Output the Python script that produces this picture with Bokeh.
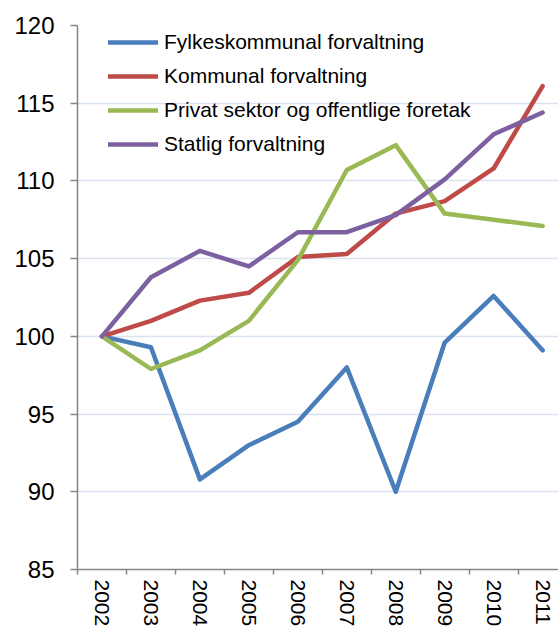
import math
from bokeh.plotting import figure
from bokeh.models import Range1d, FixedTicker, Legend, LegendItem
from bokeh.embed import file_html
from bokeh.resources import INLINE

years = [2002, 2003, 2004, 2005, 2006, 2007, 2008, 2009, 2010, 2011]
year_labels = [str(y) for y in years]

fylkeskommunal = [100.0, 99.3, 90.8, 93.0, 94.5, 98.0, 90.0, 99.6, 102.6, 99.1]
kommunal = [100.0, 101.0, 102.3, 102.8, 105.1, 105.3, 107.9, 108.7, 110.8, 116.1]
privat = [100.0, 97.9, 99.1, 101.0, 104.9, 110.7, 112.3, 107.9, 107.5, 107.1]
statlig = [100.0, 103.8, 105.5, 104.5, 106.7, 106.7, 107.8, 110.1, 113.0, 114.4]

series_names = [
    "Fylkeskommunal forvaltning",
    "Kommunal forvaltning",
    "Privat sektor og offentlige foretak",
    "Statlig forvaltning",
]
series_values = [fylkeskommunal, kommunal, privat, statlig]
colors = ["#4A7EBB", "#BE4B48", "#98B954", "#7D60A0"]

y_ticks = [85, 90, 95, 100, 105, 110, 115, 120]

FONT = "Liberation Sans"
W, H = 558, 629
LEFT, TOP = 77, 25
px_per_year = 48.96
frame_w = W - LEFT
frame_h_est = 544

p = figure(
    width=W, height=H,
    x_range=Range1d(years[0] - 0.5, years[0] - 0.5 + frame_w / px_per_year),
    y_range=Range1d(y_ticks[0], y_ticks[-1]),
    output_backend="svg", toolbar_location=None,
    min_border_left=LEFT, min_border_right=0, min_border_top=TOP, min_border_bottom=0,
)
p.outline_line_color = None
p.background_fill_color = "white"
p.border_fill_color = "white"

renderers = []
for name, vals, col in zip(series_names, series_values, colors):
    r = p.line(years, vals, line_color=col, line_width=4.5,
               line_join="round", line_cap="round")
    renderers.append(r)

# x axis
boundaries = [y - 0.5 for y in years] + [years[-1] + 0.5]
p.xaxis.ticker = FixedTicker(ticks=years, minor_ticks=boundaries)
p.xaxis.major_label_overrides = {y: s for y, s in zip(years, year_labels)}
p.xaxis.major_label_orientation = -math.pi / 2
p.xaxis.major_tick_out = 0
p.xaxis.major_tick_in = 0
p.xaxis.minor_tick_out = 5
p.xaxis.minor_tick_in = 0
p.xaxis.minor_tick_line_color = "#868686"
p.xaxis.minor_tick_line_width = 1.5
p.xaxis.axis_line_color = "#868686"
p.xaxis.axis_line_width = 1.5
p.xaxis.major_label_text_font = FONT
p.xaxis.major_label_text_font_size = "21px"
p.xaxis.major_label_text_color = "black"
p.xaxis.major_label_standoff = 5

# y axis
p.yaxis.ticker = FixedTicker(ticks=y_ticks, minor_ticks=[])
p.yaxis.major_tick_out = 7
p.yaxis.major_tick_in = 0
p.yaxis.major_tick_line_color = "#868686"
p.yaxis.major_tick_line_width = 1.5
p.yaxis.axis_line_color = "#868686"
p.yaxis.axis_line_width = 1.5
p.yaxis.major_label_text_font = FONT
p.yaxis.major_label_text_font_size = "24px"
p.yaxis.major_label_text_color = "black"
p.yaxis.major_label_standoff = 16

p.xgrid.grid_line_color = None
p.ygrid.ticker = FixedTicker(ticks=y_ticks)
p.ygrid.grid_line_color = "#D9E2EF"
p.ygrid.grid_line_width = 1.5

row_h = 34
legend = Legend(
    items=[LegendItem(label=n, renderers=[r]) for n, r in zip(series_names, renderers)],
    location=(31, frame_h_est - row_h * len(series_names)),
    padding=0, margin=0, spacing=0,
    glyph_width=50, glyph_height=row_h, label_height=row_h,
    label_standoff=6,
    label_text_font=FONT, label_text_font_size="21px", label_text_color="black",
    background_fill_alpha=0, border_line_color=None,
)
p.add_layout(legend)

open("out.html", "w").write(file_html(p, INLINE))
